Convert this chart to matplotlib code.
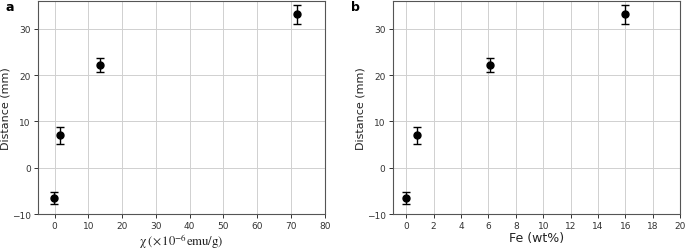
import matplotlib
matplotlib.use('Agg')
import matplotlib.pyplot as plt

chi = [-0.3, 1.7, 13.4, 71.7]
fe = [0.0, 0.76, 6.1, 16.0]
distance = [-6.5, 7.0, 22.2, 33.1]
dist_err = [1.3, 1.8, 1.5, 2.0]

fig = plt.figure(figsize=(6.85, 2.51), dpi=100)
ax1 = fig.add_axes([0.055, 0.143, 0.419, 0.849])
ax2 = fig.add_axes([0.573, 0.143, 0.420, 0.849])

for ax, xs in [(ax1, chi), (ax2, fe)]:
    ax.errorbar(xs, distance, yerr=dist_err, fmt='o', color='black',
                markersize=5, capsize=3, elinewidth=1, capthick=1, zorder=3)
    ax.grid(True, color='#d0d0d0', linewidth=0.7)
    ax.set_axisbelow(True)
    ax.set_ylim(-10, 36)
    ax.set_yticks([-10, 0, 10, 20, 30])
    ax.tick_params(labelsize=6.5, colors='#333333', length=3, width=0.7, pad=2)
    for sp in ax.spines.values():
        sp.set_color('#555555')
        sp.set_linewidth(0.8)
    ax.set_ylabel('Distance (mm)', fontsize=8, color='#222222', labelpad=1)

ax1.set_xlim(-5, 80)
ax1.set_xticks(range(0, 81, 10))
ax1.set_xlabel(r'$\mathrm{χ}\;(\times\,10^{-6}\mathrm{emu/g})$', fontsize=9.2,
               math_fontfamily='stix', color='#222222', labelpad=1)

ax2.set_xlim(-1, 20)
ax2.set_xticks(range(0, 21, 2))
ax2.set_xlabel('Fe (wt%)', fontsize=9, color='#222222', labelpad=1)

fig.text(0.008, 0.955, 'a', fontsize=9, fontweight='bold')
fig.text(0.512, 0.955, 'b', fontsize=9, fontweight='bold')

fig.savefig('out.png', dpi=100)
